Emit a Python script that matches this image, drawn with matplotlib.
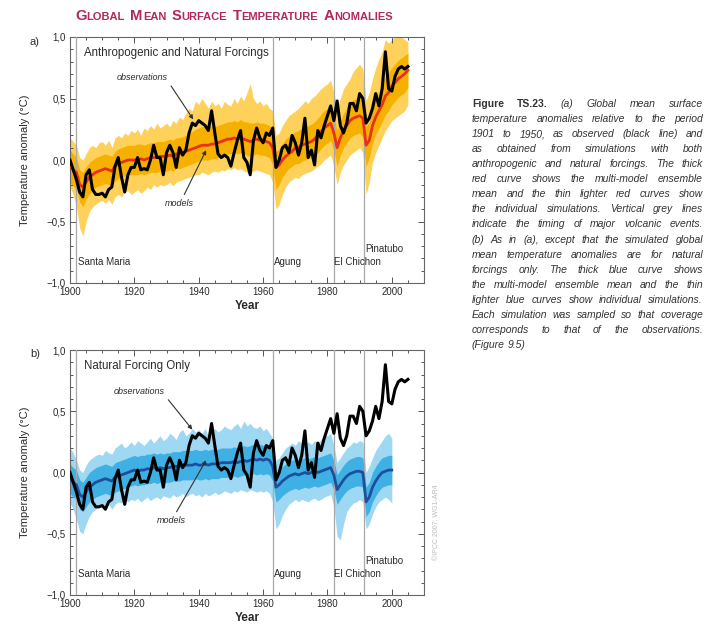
import numpy as np
import matplotlib
matplotlib.use("Agg")
import matplotlib.pyplot as plt
from matplotlib.ticker import MultipleLocator, FuncFormatter
from matplotlib.offsetbox import TextArea, HPacker, AnchoredOffsetbox

plt.rcParams['font.family'] = ['Liberation Sans', 'DejaVu Sans']

# ── data (anomalies relative to 1901-1950, °C) ──
YEARS_A = np.arange(1900, 2006)
YEARS_B = np.arange(1900, 2001)

OBS = [
    0.00, -0.08, -0.16, -0.26, -0.30, -0.12, -0.08, -0.24, -0.28, -0.28,
    -0.27, -0.30, -0.24, -0.22, -0.05, 0.02, -0.14, -0.26, -0.12, -0.06,
    -0.06, 0.02, -0.08, -0.07, -0.08, 0.00, 0.12, 0.02, 0.02, -0.12,
    0.06, 0.12, 0.06, -0.06, 0.10, 0.04, 0.08, 0.22, 0.30, 0.28,
    0.32, 0.30, 0.28, 0.24, 0.40, 0.22, 0.05, 0.02, 0.04, 0.02,
    -0.05, 0.06, 0.16, 0.24, 0.02, -0.02, -0.12, 0.16, 0.26, 0.18,
    0.14, 0.22, 0.20, 0.26, -0.06, 0.00, 0.10, 0.12, 0.06, 0.20,
    0.14, 0.04, 0.14, 0.34, 0.02, 0.08, -0.04, 0.24, 0.18, 0.28,
    0.36, 0.44, 0.32, 0.48, 0.28, 0.22, 0.30, 0.46, 0.46, 0.40,
    0.54, 0.50, 0.30, 0.34, 0.42, 0.54, 0.44, 0.58, 0.88, 0.58,
    0.56, 0.68, 0.74, 0.76, 0.74, 0.76,
]

# (a) anthropogenic + natural: ensemble mean, inner core and outer spread
MEAN_A = [
    -0.05, -0.08, -0.10, -0.20, -0.22, -0.18, -0.14, -0.12, -0.10, -0.09,
    -0.08, -0.07, -0.08, -0.09, -0.05, -0.03, -0.02, -0.01, 0.00, 0.00,
    0.00, 0.00, 0.01, 0.00, 0.01, 0.02, 0.02, 0.02, 0.03, 0.03,
    0.03, 0.04, 0.03, 0.05, 0.05, 0.06, 0.07, 0.08, 0.09, 0.10,
    0.11, 0.12, 0.12, 0.12, 0.13, 0.13, 0.14, 0.15, 0.16, 0.17,
    0.17, 0.18, 0.17, 0.18, 0.17, 0.16, 0.15, 0.16, 0.17, 0.16,
    0.16, 0.15, 0.14, 0.10, -0.06, -0.04, 0.00, 0.03, 0.05, 0.07,
    0.10, 0.10, 0.12, 0.13, 0.14, 0.15, 0.17, 0.20, 0.23, 0.26,
    0.28, 0.30, 0.22, 0.10, 0.18, 0.24, 0.28, 0.32, 0.34, 0.35,
    0.36, 0.34, 0.12, 0.16, 0.28, 0.35, 0.40, 0.45, 0.52, 0.55,
    0.60, 0.63, 0.66, 0.68, 0.70, 0.73,
]
OUT_HI_A = [
    0.18, 0.15, 0.12, 0.02, 0.00, 0.05, 0.10, 0.12, 0.10, 0.14,
    0.15, 0.12, 0.16, 0.10, 0.18, 0.20, 0.18, 0.22, 0.20, 0.24,
    0.22, 0.25, 0.20, 0.26, 0.24, 0.28, 0.25, 0.30, 0.26, 0.28,
    0.30, 0.27, 0.32, 0.30, 0.35, 0.33, 0.38, 0.42, 0.40, 0.48,
    0.45, 0.50, 0.46, 0.42, 0.48, 0.44, 0.46, 0.42, 0.48, 0.45,
    0.44, 0.50, 0.46, 0.52, 0.48, 0.55, 0.62, 0.50, 0.46, 0.48,
    0.44, 0.46, 0.42, 0.40, 0.20, 0.22, 0.28, 0.32, 0.36, 0.38,
    0.40, 0.42, 0.45, 0.48, 0.46, 0.50, 0.52, 0.55, 0.58, 0.60,
    0.62, 0.65, 0.55, 0.42, 0.50, 0.58, 0.62, 0.66, 0.72, 0.75,
    0.78, 0.74, 0.48, 0.55, 0.66, 0.75, 0.82, 0.88, 0.98, 0.95,
    0.98, 1.00, 1.00, 1.00, 0.98, 0.96,
]
OUT_LO_A = [
    -0.22, -0.28, -0.38, -0.55, -0.62, -0.50, -0.42, -0.38, -0.36, -0.34,
    -0.33, -0.35, -0.32, -0.36, -0.30, -0.28, -0.30, -0.26, -0.25, -0.28,
    -0.26, -0.24, -0.27, -0.25, -0.22, -0.24, -0.20, -0.22, -0.20, -0.21,
    -0.20, -0.18, -0.21, -0.18, -0.17, -0.16, -0.15, -0.14, -0.13, -0.12,
    -0.12, -0.10, -0.11, -0.12, -0.10, -0.09, -0.10, -0.08, -0.09, -0.07,
    -0.08, -0.06, -0.08, -0.07, -0.09, -0.10, -0.11, -0.09, -0.08, -0.09,
    -0.10, -0.11, -0.12, -0.18, -0.40, -0.36, -0.28, -0.22, -0.18, -0.16,
    -0.14, -0.15, -0.12, -0.11, -0.10, -0.09, -0.07, -0.05, -0.03, 0.00,
    0.02, 0.04, -0.05, -0.20, -0.10, -0.04, 0.00, 0.04, 0.06, 0.08,
    0.10, 0.06, -0.28, -0.18, -0.02, 0.06, 0.12, 0.18, 0.24, 0.28,
    0.32, 0.34, 0.36, 0.38, 0.40, 0.45,
]
IN_HI_A = [
    0.08, 0.05, 0.02, -0.08, -0.10, -0.06, -0.02, 0.00, 0.02, 0.03,
    0.04, 0.05, 0.04, 0.03, 0.07, 0.09, 0.10, 0.11, 0.12, 0.12,
    0.12, 0.13, 0.13, 0.12, 0.13, 0.14, 0.14, 0.15, 0.15, 0.15,
    0.16, 0.17, 0.16, 0.18, 0.18, 0.19, 0.20, 0.22, 0.23, 0.25,
    0.26, 0.27, 0.27, 0.26, 0.28, 0.27, 0.28, 0.29, 0.30, 0.31,
    0.31, 0.32, 0.31, 0.33, 0.31, 0.31, 0.30, 0.30, 0.31, 0.30,
    0.30, 0.29, 0.28, 0.25, 0.07, 0.09, 0.13, 0.17, 0.19, 0.21,
    0.23, 0.24, 0.26, 0.27, 0.28, 0.29, 0.31, 0.34, 0.37, 0.40,
    0.42, 0.44, 0.36, 0.24, 0.32, 0.38, 0.42, 0.46, 0.49, 0.50,
    0.51, 0.49, 0.27, 0.31, 0.43, 0.50, 0.55, 0.61, 0.68, 0.71,
    0.75, 0.78, 0.81, 0.83, 0.85, 0.87,
]
IN_LO_A = [
    -0.18, -0.21, -0.24, -0.34, -0.38, -0.32, -0.27, -0.25, -0.22, -0.21,
    -0.20, -0.19, -0.20, -0.21, -0.17, -0.15, -0.14, -0.13, -0.12, -0.12,
    -0.12, -0.12, -0.11, -0.12, -0.11, -0.10, -0.10, -0.10, -0.09, -0.09,
    -0.09, -0.08, -0.09, -0.07, -0.07, -0.06, -0.05, -0.04, -0.03, -0.02,
    -0.01, 0.00, 0.00, 0.00, 0.01, 0.01, 0.02, 0.03, 0.04, 0.05,
    0.05, 0.06, 0.05, 0.06, 0.05, 0.04, 0.03, 0.04, 0.05, 0.04,
    0.04, 0.03, 0.02, -0.04, -0.24, -0.20, -0.14, -0.10, -0.07, -0.05,
    -0.03, -0.03, -0.01, 0.00, 0.01, 0.02, 0.04, 0.06, 0.09, 0.12,
    0.14, 0.16, 0.08, -0.05, 0.04, 0.10, 0.14, 0.18, 0.20, 0.21,
    0.22, 0.19, -0.05, 0.02, 0.14, 0.21, 0.26, 0.31, 0.37, 0.40,
    0.45, 0.48, 0.51, 0.53, 0.55, 0.59,
]

# (b) natural forcings only
MEAN_B = [
    -0.05, -0.08, -0.10, -0.18, -0.20, -0.16, -0.12, -0.10, -0.08, -0.07,
    -0.06, -0.05, -0.06, -0.07, -0.04, -0.03, -0.02, -0.01, 0.00, 0.01,
    0.02, 0.01, 0.02, 0.02, 0.03, 0.03, 0.04, 0.03, 0.04, 0.03,
    0.04, 0.04, 0.05, 0.05, 0.05, 0.06, 0.06, 0.06, 0.06, 0.07,
    0.06, 0.06, 0.07, 0.06, 0.07, 0.07, 0.07, 0.08, 0.08, 0.08,
    0.08, 0.09, 0.08, 0.09, 0.10, 0.09, 0.10, 0.11, 0.10, 0.11,
    0.10, 0.11, 0.10, 0.05, -0.12, -0.10, -0.07, -0.05, -0.03, -0.02,
    -0.01, -0.02, -0.01, 0.00, -0.01, 0.00, 0.01, 0.00, 0.01, 0.02,
    0.03, 0.04, -0.02, -0.14, -0.10, -0.06, -0.03, -0.01, 0.00, 0.01,
    0.01, 0.00, -0.24, -0.20, -0.12, -0.07, -0.03, 0.00, 0.01, 0.02,
    0.02,
]
OUT_HI_B = [
    0.20, 0.16, 0.10, 0.02, 0.00, 0.06, 0.10, 0.12, 0.14, 0.15,
    0.14, 0.18, 0.16, 0.15, 0.20, 0.22, 0.24, 0.20, 0.22, 0.25,
    0.22, 0.26, 0.24, 0.22, 0.25, 0.28, 0.24, 0.27, 0.30, 0.26,
    0.28, 0.32, 0.30, 0.27, 0.33, 0.35, 0.30, 0.32, 0.36, 0.33,
    0.35, 0.32, 0.36, 0.30, 0.34, 0.36, 0.33, 0.35, 0.38, 0.36,
    0.35, 0.38, 0.40, 0.36, 0.42, 0.38, 0.40, 0.37, 0.36, 0.38,
    0.34, 0.36, 0.32, 0.28, 0.10, 0.12, 0.16, 0.20, 0.22, 0.24,
    0.22, 0.26, 0.24, 0.22, 0.25, 0.23, 0.26, 0.24, 0.27, 0.30,
    0.30, 0.32, 0.22, 0.08, 0.12, 0.16, 0.20, 0.22, 0.25, 0.24,
    0.26, 0.25, 0.00, 0.05, 0.12, 0.18, 0.22, 0.26, 0.30, 0.32,
    0.28,
]
OUT_LO_B = [
    -0.25, -0.30, -0.38, -0.48, -0.50, -0.42, -0.36, -0.32, -0.30, -0.28,
    -0.27, -0.28, -0.26, -0.30, -0.26, -0.24, -0.25, -0.22, -0.24, -0.22,
    -0.23, -0.21, -0.24, -0.22, -0.20, -0.23, -0.21, -0.20, -0.22, -0.19,
    -0.20, -0.21, -0.18, -0.20, -0.19, -0.17, -0.20, -0.18, -0.17, -0.19,
    -0.18, -0.20, -0.17, -0.19, -0.18, -0.16, -0.18, -0.17, -0.15, -0.16,
    -0.17, -0.15, -0.16, -0.14, -0.15, -0.16, -0.14, -0.15, -0.16, -0.15,
    -0.16, -0.15, -0.17, -0.24, -0.46, -0.42, -0.35, -0.30, -0.26, -0.24,
    -0.22, -0.24, -0.22, -0.23, -0.24, -0.22, -0.21, -0.23, -0.22, -0.20,
    -0.19, -0.18, -0.28, -0.52, -0.55, -0.42, -0.32, -0.28, -0.25, -0.24,
    -0.22, -0.24, -0.46, -0.42, -0.34, -0.28, -0.24, -0.22, -0.20, -0.22,
    -0.25,
]
IN_HI_B = [
    0.07, 0.04, 0.02, -0.06, -0.08, -0.04, 0.00, 0.02, 0.04, 0.05,
    0.06, 0.07, 0.06, 0.05, 0.08, 0.09, 0.10, 0.11, 0.12, 0.13,
    0.14, 0.13, 0.14, 0.14, 0.15, 0.15, 0.16, 0.15, 0.16, 0.15,
    0.16, 0.16, 0.17, 0.17, 0.17, 0.18, 0.18, 0.18, 0.18, 0.19,
    0.18, 0.18, 0.19, 0.18, 0.19, 0.19, 0.19, 0.20, 0.20, 0.20,
    0.20, 0.21, 0.20, 0.21, 0.22, 0.21, 0.22, 0.23, 0.22, 0.23,
    0.22, 0.23, 0.22, 0.17, 0.00, 0.02, 0.05, 0.07, 0.09, 0.10,
    0.11, 0.10, 0.11, 0.12, 0.11, 0.12, 0.13, 0.12, 0.13, 0.14,
    0.15, 0.16, 0.10, -0.02, 0.02, 0.06, 0.09, 0.11, 0.12, 0.13,
    0.13, 0.12, -0.12, -0.08, 0.00, 0.05, 0.09, 0.12, 0.13, 0.14,
    0.14,
]
IN_LO_B = [
    -0.17, -0.20, -0.22, -0.30, -0.32, -0.28, -0.24, -0.22, -0.20, -0.19,
    -0.18, -0.17, -0.18, -0.19, -0.16, -0.15, -0.14, -0.13, -0.12, -0.11,
    -0.10, -0.11, -0.10, -0.10, -0.09, -0.09, -0.08, -0.09, -0.08, -0.09,
    -0.08, -0.08, -0.07, -0.07, -0.07, -0.06, -0.06, -0.06, -0.06, -0.05,
    -0.06, -0.06, -0.05, -0.06, -0.05, -0.05, -0.05, -0.04, -0.04, -0.04,
    -0.04, -0.03, -0.04, -0.03, -0.02, -0.03, -0.02, -0.01, -0.02, -0.01,
    -0.02, -0.01, -0.02, -0.07, -0.24, -0.22, -0.19, -0.17, -0.15, -0.14,
    -0.13, -0.14, -0.13, -0.12, -0.13, -0.12, -0.11, -0.12, -0.11, -0.10,
    -0.09, -0.08, -0.14, -0.26, -0.22, -0.18, -0.15, -0.13, -0.12, -0.11,
    -0.11, -0.12, -0.36, -0.32, -0.24, -0.19, -0.15, -0.12, -0.11, -0.10,
    -0.10,
]

VOLCANO_NAMES = ["Santa Maria", "Agung", "El Chichon", "Pinatubo"]
VOLCANO_YEARS = [1902, 1963, 1982, 1991.3]
VOLCANO_LABEL_X = [1902.6, 1963.4, 1982.0, 1991.8]
VOLCANO_LABEL_Y = [-0.83, -0.83, -0.83, -0.72]

TITLE = "Global Mean Surface Temperature Anomalies"
CAPTION = [
    "Figure TS.23. (a) Global mean surface",
    "temperature anomalies relative to the period",
    "1901 to 1950, as observed (black line) and",
    "as obtained from simulations with both",
    "anthropogenic and natural forcings. The thick",
    "red curve shows the multi-model ensemble",
    "mean and the thin lighter red curves show",
    "the individual simulations. Vertical grey lines",
    "indicate the timing of major volcanic events.",
    "(b) As in (a), except that the simulated global",
    "mean temperature anomalies are for natural",
    "forcings only. The thick blue curve shows",
    "the multi-model ensemble mean and the thin",
    "lighter blue curves show individual simulations.",
    "Each simulation was sampled so that coverage",
    "corresponds to that of the observations.",
    "(Figure 9.5)",
]

TEXT_C = "#2b2b2b"


def comma_fmt(v, pos):
    s = f"{abs(v):.1f}".replace(".", ",")
    return ("\u2212" + s) if v < -1e-9 else s


def draw_panel(ax, years, mean, out_lo, out_hi, in_lo, in_hi,
               c_out, c_in, c_mean, title, obs_txt, obs_tip, mod_txt, mod_tip):
    ax.fill_between(years, out_lo, out_hi, color=c_out, lw=0, zorder=1)
    ax.fill_between(years, in_lo, in_hi, color=c_in, lw=0, zorder=2)
    for vx in VOLCANO_YEARS:
        ax.axvline(vx, color="#a8a8a8", lw=0.9, zorder=3)
    ax.plot(years, mean, color=c_mean, lw=2.0, zorder=4, solid_joinstyle="round")
    ax.plot(YEARS_A, OBS, color="black", lw=2.2, zorder=5, solid_joinstyle="round")

    for name, lx, ly in zip(VOLCANO_NAMES, VOLCANO_LABEL_X, VOLCANO_LABEL_Y):
        ax.text(lx, ly, name, fontsize=7, color=TEXT_C, va="center", ha="left", zorder=6)
    ax.text(1904.5, 0.87, title, fontsize=8.3, color=TEXT_C, va="center", ha="left")

    arrow = dict(arrowstyle="-|>", color="#333333", lw=0.8, mutation_scale=6,
                 shrinkA=1, shrinkB=0)
    ax.annotate("observations", xy=obs_tip, xytext=obs_txt, fontsize=6.5,
                style="italic", color=TEXT_C, ha="center", va="center",
                arrowprops=dict(arrow, relpos=(1.0, 0.1)), zorder=7)
    ax.annotate("models", xy=mod_tip, xytext=mod_txt, fontsize=6.5,
                style="italic", color=TEXT_C, ha="center", va="center",
                arrowprops=dict(arrow, relpos=(0.6, 1.0)), zorder=7)

    ax.set_xlim(1900, 2010)
    ax.set_ylim(-1.0, 1.0)
    ax.xaxis.set_major_locator(MultipleLocator(20))
    ax.xaxis.set_minor_locator(MultipleLocator(5))
    ax.yaxis.set_major_locator(MultipleLocator(0.5))
    ax.yaxis.set_minor_locator(MultipleLocator(0.1))
    ax.yaxis.set_major_formatter(FuncFormatter(comma_fmt))
    ax.tick_params(which="both", direction="in", top=True, right=True,
                   colors="#555555", labelcolor=TEXT_C, labelsize=7, width=0.7)
    ax.tick_params(which="major", length=4, pad=3)
    ax.tick_params(which="minor", length=2)
    for sp in ax.spines.values():
        sp.set_color("#666666")
        sp.set_linewidth(0.8)
    ax.set_xlabel("Year", fontsize=8.5, fontweight="bold", color=TEXT_C, labelpad=2)
    ax.set_ylabel("Temperature anomaly (\u00b0C)", fontsize=8, color=TEXT_C, labelpad=12)


def draw_title(fig):
    words = []
    for w in TITLE.split():
        big = TextArea(w[0], textprops=dict(size=10.6, weight="bold", color="#b0285e"))
        small = TextArea(w[1:].upper(), textprops=dict(size=8.0, weight="bold", color="#b0285e"))
        words.append(HPacker(children=[big, small], align="baseline", pad=0, sep=0))
    box = HPacker(children=words, align="baseline", pad=0, sep=4)
    anch = AnchoredOffsetbox(loc="center", child=box, pad=0, borderpad=0, frameon=False,
                             bbox_to_anchor=(234 / 704, 1 - 16 / 630),
                             bbox_transform=fig.transFigure)
    fig.add_artist(anch)


def draw_caption(fig, x0, x1, ytop, dy):
    # justified block: each word placed by hand so lines fill x0..x1
    renderer = fig.canvas.get_renderer()
    W, H = fig.bbox.width, fig.bbox.height
    props = dict(fontsize=7.5, color="#333333", va="baseline", ha="left")
    for i, line in enumerate(CAPTION):
        words = line.split(" ")
        y = 1 - (ytop + i * dy) / H
        arts = []
        for j, w in enumerate(words):
            bold = (i == 0 and j < 2)
            t = fig.text(0, y, w, fontweight="bold" if bold else "normal",
                         style="normal" if bold else "italic", **props)
            arts.append(t)
        widths = [a.get_window_extent(renderer).width for a in arts]
        if i < len(CAPTION) - 1 and len(arts) > 1:
            gap = ((x1 - x0) - sum(widths)) / (len(arts) - 1)
            gap = max(gap, 1.5)
        else:
            gap = 3.0
        x = x0
        for a, wd in zip(arts, widths):
            a.set_x(x / W)
            x += wd + gap


fig = plt.figure(figsize=(7.04, 6.30), dpi=100)
ax_a = fig.add_axes([70 / 704, 1 - 283 / 630, 354 / 704, 246 / 630])
ax_b = fig.add_axes([70 / 704, 1 - 595 / 630, 354 / 704, 245 / 630])

draw_panel(ax_a, YEARS_A, MEAN_A, OUT_LO_A, OUT_HI_A, IN_LO_A, IN_HI_A,
           "#fdd15a", "#f6b000", "#e8301c", "Anthropogenic and Natural Forcings",
           (1922.5, 0.67), (1938.3, 0.33), (1934.0, -0.35), (1942.3, 0.08))
draw_panel(ax_b, YEARS_B, MEAN_B, OUT_LO_B, OUT_HI_B, IN_LO_B, IN_HI_B,
           "#9fd8f2", "#3fb0e3", "#1f4f9c", "Natural Forcing Only",
           (1921.5, 0.66), (1938.0, 0.35), (1931.5, -0.39), (1942.3, 0.10))

fig.text(35 / 704, 1 - 42 / 630, "a)", fontsize=8, color=TEXT_C, ha="center", va="center")
fig.text(35 / 704, 1 - 354 / 630, "b)", fontsize=8, color=TEXT_C, ha="center", va="center")
fig.text(437 / 704, 1 - 522 / 630, "\u00a9IPCC 2007: WG1-AR4", rotation=90,
         fontsize=5, color="#bdbdbd", ha="center", va="center")

draw_title(fig)
draw_caption(fig, 472, 703, 107, 15.06)

fig.savefig("out.png", dpi=100)
